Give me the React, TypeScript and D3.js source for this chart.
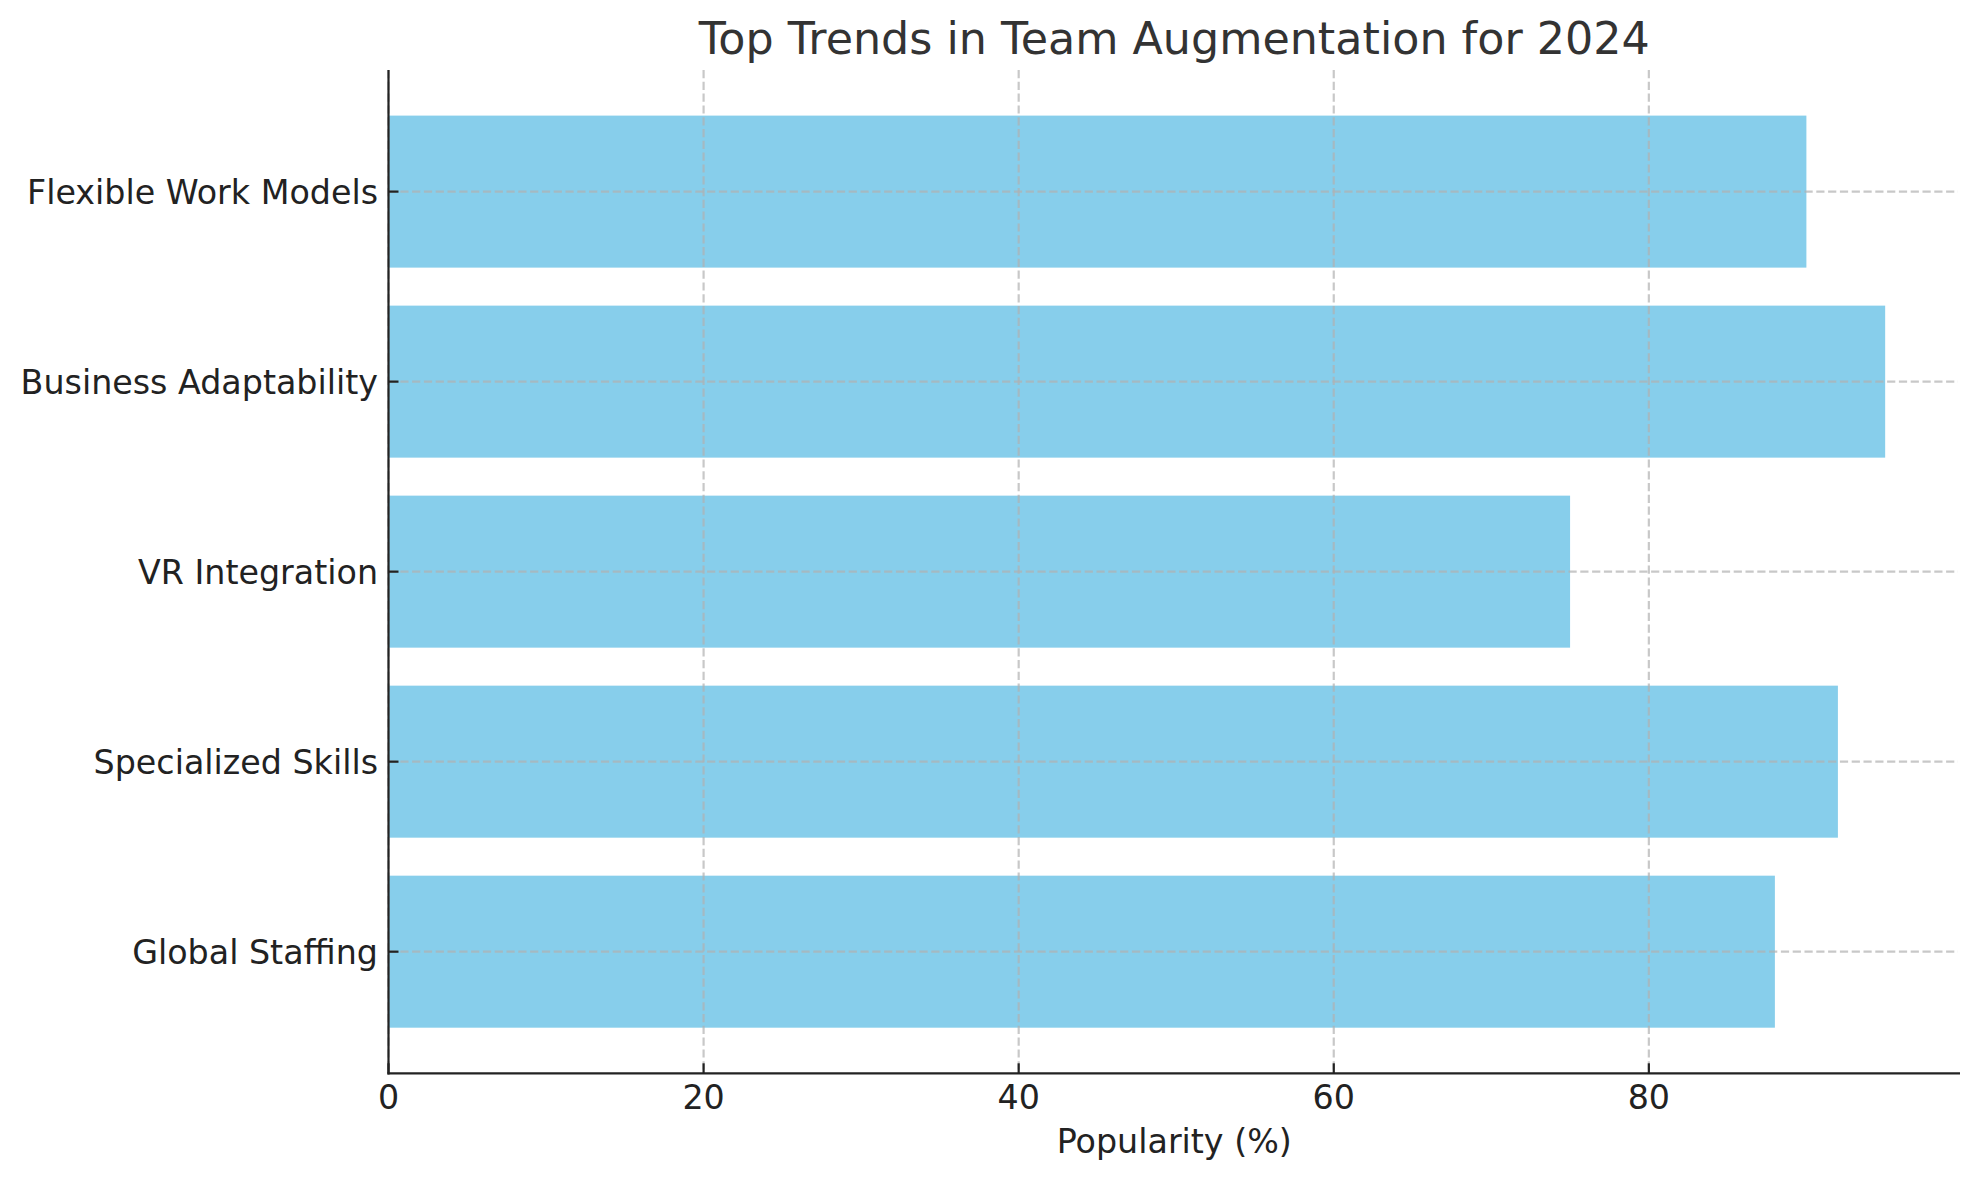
import React, { useEffect, useRef } from "react";
import * as d3 from "d3";

const categories = [
  "Flexible Work Models",
  "Business Adaptability",
  "VR Integration",
  "Specialized Skills",
  "Global Staffing",
];
const popularity = [90, 95, 75, 92, 88];
const xTicks = [0, 20, 40, 60, 80];
const title = "Top Trends in Team Augmentation for 2024";
const xLabel = "Popularity (%)";

const W = 1979;
const H = 1180;
const M = { left: 388.5, right: 19, top: 70, bottom: 106.7 };
const FONT = "'DejaVu Sans', sans-serif";

export default function App() {
  const ref = useRef<SVGSVGElement>(null);

  useEffect(() => {
    const svg = d3.select(ref.current);
    svg.selectAll("*").remove();

    const x0 = M.left, x1 = W - M.right, y0 = M.top, y1 = H - M.bottom;
    const xMax = d3.max(popularity)! * 1.05;
    const x = d3.scaleLinear().domain([0, xMax]).range([x0, x1]);
    const y = d3
      .scaleBand<string>()
      .domain(categories)
      .range([y0, y1])
      .paddingInner(0.2)
      .paddingOuter(0.24);

    svg.append("rect").attr("width", W).attr("height", H).attr("fill", "#fff");

    const data = categories.map((c, i) => ({ c, v: popularity[i] }));

    svg
      .append("g")
      .selectAll("rect")
      .data(data)
      .join("rect")
      .attr("x", x(0))
      .attr("y", (d) => y(d.c)!)
      .attr("width", (d) => x(d.v) - x(0))
      .attr("height", y.bandwidth())
      .attr("fill", "#87CEEB");

    const grid = svg.append("g").attr("stroke", "#b0b0b0").attr("stroke-opacity", 0.7)
      .attr("stroke-width", 2.2).attr("stroke-dasharray", "8.2,3.6");
    grid.selectAll("line.vx").data(xTicks).join("line")
      .attr("x1", (d) => x(d)).attr("x2", (d) => x(d)).attr("y1", y0).attr("y2", y1);
    grid.selectAll("line.hy").data(categories).join("line")
      .attr("x1", x0).attr("x2", x1 - 2)
      .attr("y1", (d) => y(d)! + y.bandwidth() / 2)
      .attr("y2", (d) => y(d)! + y.bandwidth() / 2);

    const axisColor = "#222";
    // spines
    svg.append("line").attr("x1", x0).attr("x2", x0).attr("y1", y0).attr("y2", y1 + 1.1)
      .attr("stroke", axisColor).attr("stroke-width", 2.2);
    svg.append("line").attr("x1", x0 - 1.1).attr("x2", x1).attr("y1", y1).attr("y2", y1)
      .attr("stroke", axisColor).attr("stroke-width", 2.2);

    // x ticks (inward)
    const xt = svg.append("g");
    xt.selectAll("line").data(xTicks).join("line")
      .attr("x1", (d) => x(d)).attr("x2", (d) => x(d)).attr("y1", y1).attr("y2", y1 - 10)
      .attr("stroke", axisColor).attr("stroke-width", 2.2);
    xt.selectAll("text").data(xTicks).join("text")
      .attr("x", (d) => x(d)).attr("y", y1 + 36)
      .attr("text-anchor", "middle").attr("font-family", FONT).attr("font-size", 33.3)
      .attr("fill", axisColor).text((d) => String(d));

    // y ticks (inward)
    const yt = svg.append("g");
    yt.selectAll("line").data(categories).join("line")
      .attr("x1", x0).attr("x2", x0 + 10)
      .attr("y1", (d) => y(d)! + y.bandwidth() / 2)
      .attr("y2", (d) => y(d)! + y.bandwidth() / 2)
      .attr("stroke", axisColor).attr("stroke-width", 2.2);
    yt.selectAll("text").data(categories).join("text")
      .attr("x", x0 - 10.5)
      .attr("y", (d) => y(d)! + y.bandwidth() / 2 + 12.5)
      .attr("text-anchor", "end").attr("font-family", FONT).attr("font-size", 33.3)
      .attr("fill", axisColor).text((d) => d);

    svg.append("text").attr("x", (x0 + x1) / 2).attr("y", 1153)
      .attr("text-anchor", "middle").attr("font-family", FONT).attr("font-size", 33.3)
      .attr("fill", axisColor).text(xLabel);

    svg.append("text").attr("x", (x0 + x1) / 2).attr("y", 54)
      .attr("text-anchor", "middle").attr("font-family", FONT).attr("font-size", 44.4)
      .attr("fill", "#333").text(title);
  }, []);

  return (
    <svg
      ref={ref}
      width={W}
      height={H}
      style={{ position: "absolute", left: 0, top: 0, display: "block" }}
    />
  );
}
